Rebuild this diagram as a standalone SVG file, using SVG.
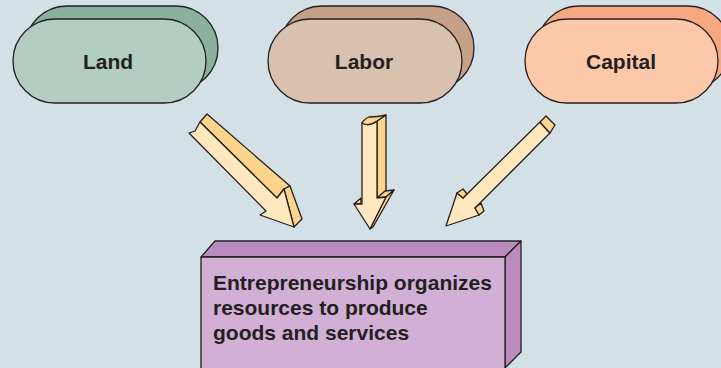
<svg xmlns="http://www.w3.org/2000/svg" width="721" height="368" viewBox="0 0 721 368">
<style>
.ln{stroke:#231F20;stroke-width:1.3;stroke-linejoin:round}
.lbl{font-family:"Liberation Sans",Arial,sans-serif;font-weight:bold;font-size:21px;fill:#231F20}
.af{fill:#FFE8BE}
.ad{fill:#FDD48C}
</style>
<rect width="721" height="368" fill="#D3E0E5"/>
<g id="land">
<rect class="ln" x="25" y="6" width="193" height="84" rx="42" fill="#8AB09E"/>
<rect class="ln" x="13" y="19" width="193" height="84" rx="42" fill="#B3CDC2"/>
<text class="lbl" x="108" y="69" text-anchor="middle">Land</text>
</g>
<g id="labor">
<rect class="ln" x="280" y="6" width="194" height="84" rx="42" fill="#C6A087"/>
<rect class="ln" x="268" y="19" width="194" height="84" rx="42" fill="#D9C1AF"/>
<text class="lbl" x="364" y="69" text-anchor="middle">Labor</text>
</g>
<g id="capital">
<rect class="ln" x="537" y="6" width="193" height="84" rx="42" fill="#F7A882"/>
<rect class="ln" x="525" y="19" width="193" height="84" rx="42" fill="#FCC8AA"/>
<text class="lbl" x="621" y="69" text-anchor="middle">Capital</text>
</g>
<g id="entrepreneurship">
<polygon class="ln" points="201,257 215,241 521,241 505,257" fill="#B98BBE"/>
<polygon class="ln" points="505,257 521,241 521,352 505,368" fill="#B98BBE"/>
<rect class="ln" x="201" y="257" width="304" height="120" fill="#D2B0D6"/>
<text class="lbl" x="213" y="290">Entrepreneurship organizes</text>
<text class="lbl" x="213" y="315">resources to produce</text>
<text class="lbl" x="213" y="340">goods and services</text>
</g>
<g id="connectors">
<g id="arrow-land">
<polygon class="ln ad" points="200,122 207,114 290,186 284,189 277,198"/>
<polygon class="ln ad" points="284,189 290,186 302,219 294,227"/>
<polygon class="ln af" points="189,133 195,131 200,122 277,198 284,189 294,227 260,215 266,211"/>
</g>
<g id="arrow-labor">
<polygon class="ln ad" points="377,121 386,115 386,191 377,198"/>
<polygon class="ln ad" points="377,198 385,191 394,190 386,197"/>
<polygon class="ln ad" points="386,197 394,190 373,227 370,229"/>
<polygon class="ln ad" points="354,204 361,198 361,204"/>
<path class="ln af" d="M362,123 Q369,127 377,121 L377,198 L386,197 L370,229 L354,204 L362,204 Z"/>
<path class="ln ad" d="M362,123 Q369,127 377,121 L386,115 Q378,117 369,117 Q364,119 362,123 Z"/>
</g>
<g id="arrow-capital">
<path class="ln af" d="M540,122 Q546,129 550,133 L475,208 L479,215 L446,226 L457,193 L463,198 Z"/>
<path class="ln ad" d="M540,122 L546,116 L555,125 L550,133 Q546,129 540,122 Z"/>
<polygon class="ln ad" points="457,193 463,189 467,194 463,198"/>
<polygon class="ln ad" points="475,208 481,203 484,211 479,215"/>
</g>
</g>
</svg>
